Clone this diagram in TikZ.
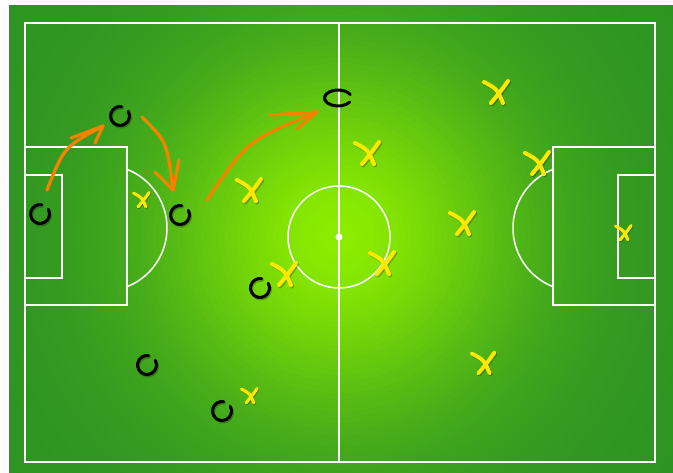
\documentclass[tikz,border=0pt]{standalone}
\definecolor{glowA}{RGB}{140,236,0}
\definecolor{glowE}{RGB}{45,148,35}
\definecolor{passorange}{RGB}{245,130,0}
\definecolor{markyellow}{RGB}{255,232,0}
\begin{document}
\begin{tikzpicture}[x=1pt, y=-1pt, line cap=round,
    pitchline/.style={white, line width=1.5pt},
    passarrow/.style={passorange, line width=3.2pt},
    ownmark/.style={black, line width=3pt},
    oppmark/.style={markyellow},
    markshadow/.style={black, opacity=0.25}]
    \useasboundingbox (0,0) rectangle (673,472);
    \fill[white] (0,0) rectangle (673,472);
    \begin{scope}
        \clip (9,5) rectangle (673,472);
        \foreach \r in {414,408,...,6} {
            \pgfmathtruncatemacro{\f}{100*exp(-(\r/185)^2)}
            \fill[glowA!\f!glowE] (339,237) circle[radius=\r];
        }
    \end{scope}
    \draw[pitchline] (25,23) rectangle (655,462);
    \draw[pitchline] (339,23) -- (339,462);
    \draw[pitchline] (339,237) circle[radius=51];
    \fill[white] (339,237) circle[radius=3.5];
    \draw[pitchline] (25,147) rectangle (127,305);
    \draw[pitchline] (25,175) rectangle (62,278);
    \draw[pitchline] (553,147) rectangle (655,305);
    \draw[pitchline] (618,175) rectangle (655,278);
    \draw[pitchline] ([shift={(-68.6:63)}]104,228) arc[start angle=-68.6, end angle=68.6, radius=63];
    \draw[pitchline] ([shift={(111.4:63)}]576,228) arc[start angle=111.4, end angle=248.6, radius=63];
    \coordinate (a1) at (47,190);
    \coordinate (t1) at (103,126);
    \coordinate (a2) at (142,117);
    \coordinate (t2) at (173,190);
    \coordinate (a3) at (207,200);
    \coordinate (t3) at (317,112);
    \draw[passarrow] (a1) .. controls (64,147) .. (t1);
    \draw[passarrow] (t1) -- +(-32,12) (t1) -- +(-8,17);
    \draw[passarrow] (a2) .. controls (167,142) .. (t2);
    \draw[passarrow] (t2) -- +(-18,-18) (t2) -- +(6,-30);
    \draw[passarrow] (a3) .. controls (247,141) .. (t3);
    \draw[passarrow] (t3) -- +(-47,3) (t3) -- +(-20,17);
    \foreach \n/\x/\y in {o1/40/214, o2/120/116, o3/180/215, o5/260/288, o6/147/365, o7/222/411} {
        \coordinate (\n) at (\x,\y);
        \draw[markshadow, line width=3pt] ([shift={(-30:9.5)}]\x+1,\y+1.5) arc[start angle=-30, end angle=280, radius=9.5];
        \draw[ownmark] ([shift={(-30:9.5)}]\n) arc[start angle=-30, end angle=280, radius=9.5];
    }
    \coordinate (o4) at (338,98);
    \draw[ownmark] ([shift={(30:13.5 and 8)}]o4) arc[start angle=30, end angle=335, x radius=13.5, y radius=8];
    \foreach \n/\x/\y/\s in {x1/142/199/0.65, x2/250/189/1, x3/497/91/1, x4/368/152/1, x5/538/162/1, x6/463/222/1,
        x7/383/262/1, x8/285/273/1, x9/624/232/0.65, x10/250/395/0.65, x11/484/362/0.95} {
        \coordinate (\n) at (\x,\y);
        \pgfmathsetmacro{\w}{1.4+2.6*\s}
        \begin{scope}[shift={(\n)}, scale=\s]
            \draw[markshadow, line width=\w pt, shift={(1.2,1.4)}] (-13,-9) .. controls (0,-2) .. (6,12) (11,-10) .. controls (4,0) .. (-6,12);
            \draw[oppmark, line width=\w pt] (-13,-9) .. controls (0,-2) .. (6,12) (11,-10) .. controls (4,0) .. (-6,12);
        \end{scope}
    }
\end{tikzpicture}
\end{document}
